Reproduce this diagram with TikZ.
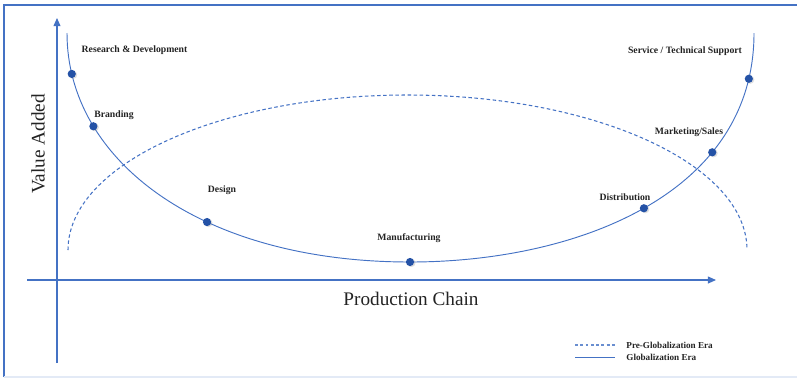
\documentclass[tikz,border=0pt]{standalone}
\usepackage{fontspec}
\setmainfont{Liberation Serif}
\usetikzlibrary{arrows.meta,positioning,shadows}
\definecolor{chainblue}{RGB}{68,114,196}
\definecolor{dotblue}{RGB}{36,82,166}
\definecolor{labelgray}{RGB}{35,35,35}

\begin{document}
\begin{tikzpicture}[x=0.03cm,y=-0.03cm,
       axis/.style={
         draw=chainblue,
         line width=1pt,
         -{Triangle[length=7pt,width=6pt]}},
       era/.style={
         draw=chainblue,
         line width=0.8pt},
       preera/.style={
         draw=chainblue,
         line width=0.9pt,
         dash pattern=on 3pt off 2.2pt},
       stage/.style={
         circle,
         fill=dotblue,
         inner sep=0pt,
         minimum size=7pt,
         drop shadow={opacity=0.25,shadow xshift=1.2pt,shadow yshift=-0.8pt}},
       tag/.style = {text=labelgray, inner sep=1pt, font=\fontsize{8.3}{10}\selectfont\bfseries},
       axislabel/.style = {text=labelgray, inner sep=1pt, font=\fontsize{16.4}{19}\selectfont},
node distance=0.3cm
      ]
      \useasboundingbox (0,0) rectangle (797,379);
      % frame
      \draw[chainblue, line width=1pt] (4,377) -- (4,5) -- (797,5);
      \draw[chainblue!15, line width=1pt] (4,377) -- (797,377);

      % axes
      \coordinate (yfoot) at (57,363);
      \coordinate (ytop) at (57,18);
      \coordinate (xfoot) at (27,280);
      \coordinate (xtip) at (716,280);
      \draw[axis] (yfoot) -- (ytop);
      \draw[axis] (xfoot) -- (xtip);
      \node[axislabel, rotate=90] (VA) at (38,144) {Value Added};
      \node[axislabel] (PC) at (411,299) {Production Chain};

      % pre-globalization era
      \draw[preera] (68,250) arc[start angle=180, end angle=360, x radius=339.5, y radius=155];

      % globalization era
      \coordinate (gStart) at (67,33);
      \coordinate (gLow) at (410,262);
      \coordinate (gEnd) at (754,33);
      \draw[era] (gStart) .. controls (67,160) and (200,262) .. (gLow)
        node[stage, pos=0.11] (RD) {}
        node[stage, pos=0.262] (BR) {}
        node[stage, pos=0.62] (DE) {};
      \draw[era] (gLow) .. controls (575,262) and (754,195) .. (gEnd)
        node[stage, pos=0.5] (DI) {}
        node[stage, pos=0.705] (MS) {}
        node[stage, pos=0.9] (SE) {};
      \node[stage] (MA) at (gLow) {};

      \node[tag] (RDt) at (134.5,50) {Research \& Development};
      \node[tag] (BRt) at (114,115) {Branding};
      \node[tag] (DEt) at (222,190) {Design};
      \node[tag] (MAt) at (409,238) {Manufacturing};
      \node[tag] (DIt) at (625,197) {Distribution};
      \node[tag] (MSt) at (689,132) {Marketing/Sales};
      \node[tag] (SEt) at (685,51) {Service / Technical Support};

      % legend
      \coordinate (preA) at (575,345);
      \coordinate (preB) at (615,345);
      \coordinate (gloA) at (575,357);
      \coordinate (gloB) at (615,357);
      \draw[preera, chainblue!80, dash pattern=on 2.5pt off 2pt] (preA) -- (preB);
      \draw[era] (gloA) -- (gloB);
      \node[tag, font=\fontsize{7.8}{9}\selectfont\bfseries, anchor=west, right=0.3cm of preB] (preT) {Pre-Globalization Era};
      \node[tag, font=\fontsize{7.8}{9}\selectfont\bfseries, anchor=west, right=0.3cm of gloB] (gloT) {Globalization Era};

\end{tikzpicture}
\end{document}
